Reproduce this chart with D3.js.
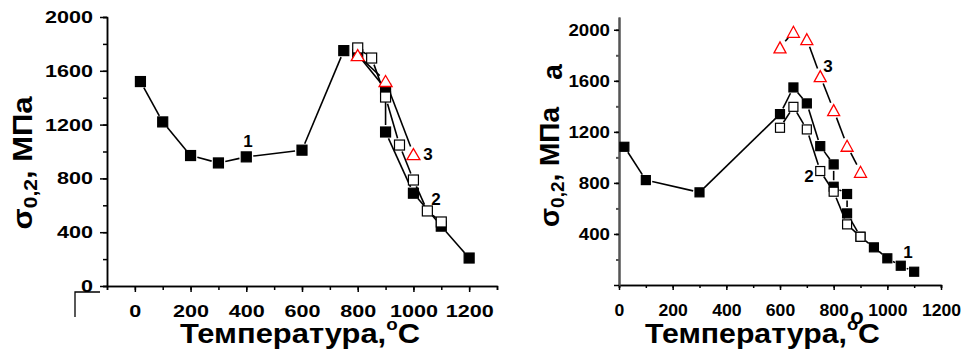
<!DOCTYPE html>
<html lang="ru">
<head>
	<meta charset="UTF-8">
	<title>Предел текучести</title>
	<script src="https://cdn.jsdelivr.net/npm/d3@7"></script>
	<style>
	body {
		margin: 0;
		background-color: #ffffff;
	}
	svg text {
		font-family: "Liberation Sans", Arial, sans-serif;
		font-weight: bold;
		fill: #000;
	}
	.axis path, .axis line {
		stroke: #000;
		stroke-width: 1.5px;
	}
	.axis--grey path, .axis--grey line {
		stroke: #555;
		stroke-width: 2px;
	}
	</style>
</head>
<body>
<script>
	// left panel
	var leftT1 = [20, 100, 200, 300, 400, 600, 750, 800, 900, 900, 1000, 1100, 1200];
	var leftS1 = [1520, 1220, 970, 915, 960, 1010, 1750, 1720, 1465, 1145, 690, 445, 208];
	var leftT2 = [800, 850, 900, 950, 1000, 1050, 1100];
	var leftS2 = [1770, 1695, 1405, 1048, 788, 558, 476];
	var leftT3 = [800, 900, 1000];
	var leftS3 = [1717, 1524, 981];
	var leftXTicks = [0, 200, 400, 600, 800, 1000, 1200];
	var leftYTicks = [0, 400, 800, 1200, 1600, 2000];

	// right panel
	var rightT1 = [20, 100, 300, 600, 650, 700, 750, 800, 800, 850, 850, 900, 950, 1000, 1050, 1100];
	var rightS1 = [1083, 822, 726, 1339, 1548, 1423, 1088, 945, 770, 713, 561, 378, 295, 209, 151, 104];
	var rightT2 = [600, 650, 700, 750, 800, 850, 900];
	var rightS2 = [1232, 1396, 1219, 893, 731, 475, 378];
	var rightT3 = [600, 650, 700, 750, 800, 850, 900];
	var rightS3 = [1862, 1984, 1926, 1637, 1370, 1091, 887];
	var rightXTicks = [0, 200, 400, 600, 800, 1000, 1200];
	var rightYTicks = [400, 800, 1200, 1600, 2000];

	var fmt = d3.format('d');

	var svg = d3.select('body').append('svg')
		.attr('width', 965)
		.attr('height', 351);

	function zip(t, s) {
		return t.map(function (d, i) { return [d, s[i]]; });
	}

	// lines in Origin style: a small gap is left around every marker
	function drawLine(g, pts, x, y, gap) {
		for (var i = 0; i < pts.length - 1; i++) {
			var x0 = x(pts[i][0]), y0 = y(pts[i][1]);
			var x1 = x(pts[i + 1][0]), y1 = y(pts[i + 1][1]);
			var dx = x1 - x0, dy = y1 - y0;
			var len = Math.sqrt(dx * dx + dy * dy);
			if (len <= 2 * gap + 1) continue;
			var ux = dx / len, uy = dy / len;
			g.append('line')
				.attr('x1', x0 + ux * gap).attr('y1', y0 + uy * gap)
				.attr('x2', x1 - ux * gap).attr('y2', y1 - uy * gap)
				.style('stroke', '#000')
				.style('stroke-width', 1.6);
		}
	}

	function drawSquares(g, pts, x, y, size, filled) {
		g.selectAll(null)
			.data(pts)
			.enter()
			.append('rect')
			.attr('x', function (d) { return x(d[0]) - size / 2; })
			.attr('y', function (d) { return y(d[1]) - size / 2; })
			.attr('width', size)
			.attr('height', size)
			.style('fill', filled ? '#000' : '#fff')
			.style('stroke', '#000')
			.style('stroke-width', 1.2);
	}

	function drawTriangles(g, pts, x, y, w, h) {
		g.selectAll(null)
			.data(pts)
			.enter()
			.append('path')
			.attr('d', function (d) {
				var cx = x(d[0]), cy = y(d[1]);
				return 'M' + cx + ',' + (cy - h / 2) +
					'L' + (cx + w / 2) + ',' + (cy + h / 2) +
					'L' + (cx - w / 2) + ',' + (cy + h / 2) + 'Z';
			})
			.style('fill', '#fff')
			.style('stroke', '#ff0000')
			.style('stroke-width', 1.3);
	}

	function fitLabels(sel, perChar) {
		sel.selectAll('.tick text')
			.style('font-size', '17px')
			.attr('lengthAdjust', 'spacingAndGlyphs')
			.attr('textLength', function () {
				return this.textContent.length * perChar;
			});
	}

	function yTitle(g, cx, cy, len, size) {
		var t = g.append('text')
			.attr('transform', 'translate(' + cx + ',' + cy + ') rotate(-90)')
			.attr('text-anchor', 'middle')
			.attr('textLength', len)
			.attr('lengthAdjust', 'spacingAndGlyphs')
			.style('font-size', size + 'px');
		t.append('tspan').text('σ');
		t.append('tspan').attr('dy', 5).style('font-size', (size * 0.68) + 'px').text('0,2');
		t.append('tspan').attr('dy', -5).text(', МПа');
		return t;
	}

	function xTitle(g, x0, base, len) {
		var t = g.append('text')
			.attr('x', x0)
			.attr('y', base)
			.attr('textLength', len)
			.attr('lengthAdjust', 'spacingAndGlyphs')
			.style('font-size', '28px');
		t.append('tspan').text('Температура,');
		t.append('tspan').attr('dy', -13).style('font-size', '17px').text('o');
		t.append('tspan').attr('dy', 13).text('C');
	}

	function seriesLabel(g, txt, xp, yp) {
		g.append('text')
			.attr('x', xp)
			.attr('y', yp)
			.attr('text-anchor', 'middle')
			.style('font-size', '17px')
			.text(txt);
	}

	// ---------- left chart ----------
	var xL = d3.scaleLinear().domain([-100, 1300]).range([107, 497]);
	var yL = d3.scaleLinear().domain([0, 2000]).range([286, 17]);
	var gL = svg.append('g');

	gL.append('g')
		.attr('class', 'axis')
		.attr('transform', 'translate(0,' + yL(0) + ')')
		.call(d3.axisBottom(xL).tickValues(d3.range(-100, 1301, 100)).tickSize(4).tickFormat(''));
	var axXL = gL.append('g')
		.attr('class', 'axis')
		.attr('transform', 'translate(0,' + yL(0) + ')')
		.call(d3.axisBottom(xL).tickValues(leftXTicks).tickFormat(fmt)
			.tickSizeInner(6).tickSizeOuter(0).tickPadding(13));
	fitLabels(axXL, 12);

	gL.append('g')
		.attr('class', 'axis')
		.attr('transform', 'translate(' + xL(-100) + ',0)')
		.call(d3.axisLeft(yL).tickValues(d3.range(0, 2001, 200)).tickSize(4).tickFormat(''));
	var axYL = gL.append('g')
		.attr('class', 'axis')
		.attr('transform', 'translate(' + xL(-100) + ',0)')
		.call(d3.axisLeft(yL).tickValues(leftYTicks).tickFormat(fmt)
			.tickSizeInner(7).tickSizeOuter(0).tickPadding(7));
	fitLabels(axYL, 12);

	// stray frame corner below the left axis
	gL.append('path')
		.attr('d', 'M100,292H75V317')
		.style('fill', 'none')
		.style('stroke', '#000')
		.style('stroke-width', 1.3);

	drawLine(gL, zip(leftT1, leftS1), xL, yL, 7);
	drawLine(gL, zip(leftT2, leftS2), xL, yL, 7);
	drawLine(gL, zip(leftT3, leftS3), xL, yL, 8);
	drawSquares(gL, zip(leftT1, leftS1), xL, yL, 10, true);
	drawSquares(gL, zip(leftT2, leftS2), xL, yL, 10, false);
	drawTriangles(gL, zip(leftT3, leftS3), xL, yL, 13, 11);

	seriesLabel(gL, '1', 248, 147);
	seriesLabel(gL, '3', 428, 160);
	seriesLabel(gL, '2', 436, 205);

	yTitle(gL, 32, 163, 133, 27);
	xTitle(gL, 180, 343, 240);

	// ---------- right chart ----------
	var xR = d3.scaleLinear().domain([0, 1200]).range([619, 941]);
	var yR = d3.scaleLinear().domain([0, 2100]).range([285, 17]);
	var gR = svg.append('g');

	gR.append('g')
		.attr('class', 'axis')
		.attr('transform', 'translate(0,' + yR(0) + ')')
		.call(d3.axisBottom(xR).tickValues(d3.range(0, 1201, 100)).tickSize(3).tickFormat(''));
	var axXR = gR.append('g')
		.attr('class', 'axis')
		.attr('transform', 'translate(0,' + yR(0) + ')')
		.call(d3.axisBottom(xR).tickValues(rightXTicks).tickFormat(fmt)
			.tickSizeInner(5).tickSizeOuter(0).tickPadding(14));
	fitLabels(axXR, 9.8);

	gR.append('g')
		.attr('class', 'axis axis--grey')
		.attr('transform', 'translate(' + xR(0) + ',0)')
		.call(d3.axisLeft(yR).tickValues(d3.range(200, 2001, 200)).tickSize(3).tickFormat('').tickSizeOuter(0));
	var axYR = gR.append('g')
		.attr('class', 'axis')
		.attr('transform', 'translate(' + xR(0) + ',0)')
		.call(d3.axisLeft(yR).tickValues([0].concat(rightYTicks)).tickSizeInner(5).tickSizeOuter(0).tickPadding(4)
			.tickFormat(function (d) { return d === 0 ? '' : fmt(d); }));
	axYR.select('.domain').style('stroke', '#555').style('stroke-width', 2);
	fitLabels(axYR, 10.4);

	drawLine(gR, zip(rightT1, rightS1), xR, yR, 6.5);
	drawLine(gR, zip(rightT2, rightS2), xR, yR, 6.5);
	drawLine(gR, zip(rightT3, rightS3), xR, yR, 8);
	drawSquares(gR, zip(rightT1, rightS1), xR, yR, 9, true);
	drawSquares(gR, zip(rightT2, rightS2), xR, yR, 9, false);
	drawTriangles(gR, zip(rightT3, rightS3), xR, yR, 12, 11);

	seriesLabel(gR, '3', 828, 72);
	seriesLabel(gR, '2', 809, 182);
	seriesLabel(gR, '1', 908, 258);

	yTitle(gR, 559, 167, 120, 28);
	gR.append('text')
		.attr('transform', 'translate(562,72) rotate(-90)')
		.attr('text-anchor', 'middle')
		.style('font-size', '28px')
		.text('а');

	// stray degree sign under the 800 label
	gR.append('text')
		.attr('x', 857)
		.attr('y', 324)
		.attr('text-anchor', 'middle')
		.style('font-size', '22px')
		.text('o');

	xTitle(gR, 645, 343, 235);
</script>
</body>
</html>
